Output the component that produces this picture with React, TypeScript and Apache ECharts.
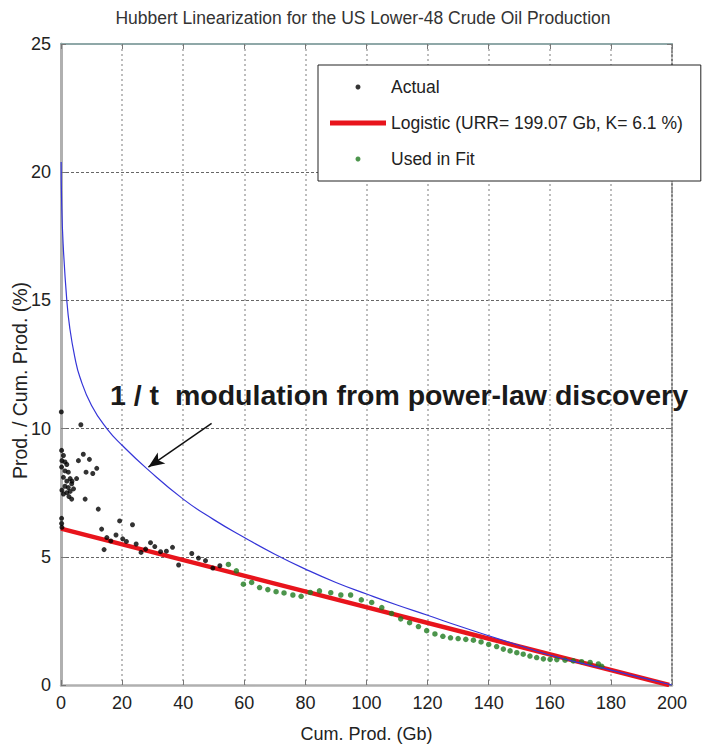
import React, { useEffect, useRef } from "react";
import * as echarts from "echarts";

const titleText = "Hubbert Linearization for the US Lower-48 Crude Oil Production";
const xName = "Cum. Prod. (Gb)";
const yName = "Prod. / Cum. Prod. (%)";
const noteText = "1 / t  modulation from power-law discovery";
const actualName = "Actual";
const logisticName = "Logistic (URR= 199.07 Gb, K= 6.1 %)";
const fitName = "Used in Fit";

// Black "Actual" points: [cumulative production Gb, prod/cum prod %]
const actualPoints: [number, number][] = [
  [0.1, 10.65], [6.5, 10.15],
  [0.2, 9.15], [0.8, 8.95], [0.3, 8.75], [1.3, 8.7], [0.2, 8.5], [1.9, 8.6], [1.3, 8.35],
  [2.4, 8.3], [0.8, 8.1], [1.9, 7.95], [3.0, 8.05], [3.6, 7.95], [5.1, 8.05], [1.3, 7.75],
  [2.4, 7.7], [3.5, 7.85], [3.0, 7.55], [4.1, 7.65], [0.8, 7.45], [1.9, 7.5], [3.5, 7.25],
  [0.3, 7.6], [2.6, 7.35],
  [5.7, 8.75], [7.3, 9.0], [9.3, 8.8], [8.2, 8.3], [10.4, 8.25], [11.7, 8.45], [7.9, 7.25], [12.2, 6.86],
  [0.2, 6.5], [0.2, 6.3], [0.3, 6.15],
  [13.3, 6.08], [19.2, 6.4], [23.4, 6.25], [14.1, 5.28], [15.0, 5.75], [16.3, 5.62], [18.0, 5.85],
  [20.2, 5.7], [21.4, 5.6], [24.6, 5.5], [26.2, 5.17], [27.7, 5.3], [29.3, 5.55], [30.7, 5.4],
  [32.6, 5.2], [34.5, 5.22], [36.5, 5.37], [38.5, 4.68], [42.8, 5.13], [45.0, 4.95], [47.3, 4.85],
  [49.7, 4.56], [52.0, 4.65],
];

// Green "Used in Fit" points
const fitPoints: [number, number][] = [
  [54.8, 4.7], [57.4, 4.45], [59.7, 3.93], [62.4, 4.0], [65.0, 3.8], [67.7, 3.72], [70.4, 3.64],
  [73.0, 3.59], [75.9, 3.51], [78.6, 3.46], [81.6, 3.61], [84.6, 3.67], [88.3, 3.6], [91.6, 3.51],
  [94.8, 3.51], [98.3, 3.32], [101.7, 3.22], [105.0, 3.02], [108.2, 2.79], [111.2, 2.58],
  [114.1, 2.43], [117.0, 2.28], [119.7, 2.12], [122.4, 1.99], [125.0, 1.9], [127.5, 1.84],
  [130.0, 1.81], [132.5, 1.78], [135.0, 1.75], [137.5, 1.68], [140.0, 1.58], [142.6, 1.5],
  [144.8, 1.4], [147.0, 1.33], [149.2, 1.26], [151.3, 1.2], [153.5, 1.13], [155.7, 1.07],
  [157.9, 1.02], [160.1, 1.0], [162.3, 0.99], [165.0, 0.97], [167.7, 0.94], [170.4, 0.91],
  [173.2, 0.88], [175.9, 0.82], [177.0, 0.73],
];

// Logistic straight line end points
const logisticPoints: [number, number][] = [
  [0, 6.1],
  [199.07, 0],
];

// Blue 1/t modulation curve
const modulationPoints: [number, number][] = [
  [0.05, 20.4], [0.2, 18.9], [0.7, 17.2], [1.9, 15.0], [2.9, 13.9], [4.5, 12.8], [6.2, 12.0],
  [10, 10.9], [15, 10.0], [20, 9.35], [28, 8.45], [40, 7.25], [50, 6.45], [60, 5.75],
  [70, 5.1], [80, 4.52], [90, 4.0], [100, 3.55], [110, 3.12], [120, 2.72], [130, 2.31],
  [140, 1.92], [150, 1.54], [160, 1.17], [170, 0.86], [180, 0.58], [190, 0.29], [200, 0.0],
];

// Arrow from annotation to curve
const arrowStart: [number, number] = [49.3, 10.2];
const arrowEnd: [number, number] = [28.6, 8.5];

const FONT = '"Liberation Sans", Arial, Helvetica, sans-serif';

export default function App() {
  const ref = useRef<HTMLDivElement>(null);

  useEffect(() => {
    if (!ref.current) return;
    const chart = echarts.init(ref.current, undefined, { renderer: "svg" });
    const labelStyle = { fontSize: 18, color: "#222", fontFamily: FONT };
    chart.setOption({
      animation: false,
      backgroundColor: "#fff",
      textStyle: { fontFamily: FONT },
      grid: { left: 61, right: 38, top: 44, bottom: 66, containLabel: false, outerBoundsMode: "none" },
      xAxis: [
        {
          type: "value",
          min: 0,
          max: 200,
          interval: 20,
          name: xName,
          nameLocation: "middle",
          nameGap: 40,
          nameMoveOverlap: false,
          nameTextStyle: { fontSize: 18, color: "#222", fontFamily: FONT },
          axisLine: { onZero: false, lineStyle: { color: "#b0b0b0", width: 2.5 } },
          axisTick: { inside: true, length: 5, lineStyle: { color: "#777" } },
          axisLabel: { ...labelStyle, margin: 9 },
          splitLine: { show: true, lineStyle: { color: "#a8a8a8", width: 1.5, type: [2, 3] } },
        },
        {
          type: "value",
          position: "top",
          min: 0,
          max: 200,
          interval: 20,
          axisLine: { show: true, onZero: false, lineStyle: { color: "#8fa8a8", width: 2 } },
          axisTick: { show: true, inside: true, length: 5, lineStyle: { color: "#777" } },
          axisLabel: { show: false },
          splitLine: { show: false },
        },
      ],
      yAxis: [
        {
          type: "value",
          min: 0,
          max: 25,
          interval: 5,
          name: yName,
          nameLocation: "middle",
          nameGap: 31,
          nameMoveOverlap: false,
          nameTextStyle: { fontSize: 19.5, color: "#222", fontFamily: FONT, padding: [0, 32, 0, 0] },
          axisLine: { show: true, onZero: false, lineStyle: { color: "#b0b0b0", width: 3 } },
          axisTick: { show: true, inside: true, length: 5, lineStyle: { color: "#777" } },
          axisLabel: { ...labelStyle, margin: 10 },
          splitLine: { show: true, lineStyle: { color: "#666", width: 1, type: [3, 2] } },
        },
        {
          type: "value",
          position: "right",
          min: 0,
          max: 25,
          interval: 5,
          axisLine: { show: true, onZero: false, lineStyle: { color: "#666", width: 1.5, type: [2, 2] } },
          axisTick: { show: true, inside: true, length: 5, lineStyle: { color: "#777" } },
          axisLabel: { show: false },
          splitLine: { show: false },
        },
      ],
      legend: {
        data: [
          { name: actualName, icon: "circle" },
          { name: logisticName, icon: "rect" },
          { name: fitName, icon: "circle" },
        ],
        orient: "vertical",
        left: 318,
        top: 65,
        itemWidth: 56,
        itemHeight: 5,
        itemGap: 18,
        padding: [13, 18, 13, 12],
        backgroundColor: "#fff",
        borderColor: "#222",
        borderWidth: 1,
        borderRadius: 0,
        textStyle: { fontSize: 17.5, color: "#222", fontFamily: FONT },
      },
      graphic: [
        {
          type: "text",
          x: 363,
          y: 18,
          style: {
            text: titleText,
            font: `17.5px ${FONT}`,
            fill: "#333",
            textAlign: "center",
            textVerticalAlign: "middle",
          },
        },
        {
          type: "text",
          x: 110,
          y: 395,
          z: 10,
          style: {
            text: noteText,
            font: `bold 28.5px ${FONT}`,
            fill: "#1a1a1a",
            textAlign: "left",
            textVerticalAlign: "middle",
          },
        },
      ],
      series: [
        {
          name: logisticName,
          type: "line",
          data: logisticPoints,
          showSymbol: false,
          symbol: "none",
          lineStyle: { color: "#e8141c", width: 4.5 },
          itemStyle: { color: "#e8141c" },
          z: 2,
        },
        {
          name: fitName,
          type: "scatter",
          data: fitPoints,
          symbol: "circle",
          symbolSize: 5.5,
          itemStyle: { color: "#1f7a1f" },
          z: 3,
        },
        {
          name: actualName,
          type: "scatter",
          data: actualPoints,
          symbol: "circle",
          symbolSize: 5,
          itemStyle: { color: "#000" },
          z: 3,
        },
        {
          name: "modulation",
          type: "line",
          data: modulationPoints,
          showSymbol: false,
          symbol: "none",
          smooth: 0.5,
          lineStyle: { color: "#3535d8", width: 1.2 },
          z: 4,
          markLine: {
            silent: true,
            symbol: ["none", "arrow"],
            symbolSize: [10, 16],
            label: { show: false },
            lineStyle: { color: "#111", width: 1.5, type: "solid" },
            data: [[{ coord: arrowStart }, { coord: arrowEnd }]],
          },
        },
      ],
    });
    return () => chart.dispose();
  }, []);

  return (
    <div
      ref={ref}
      style={{ position: "fixed", left: 0, top: 0, width: 710, height: 751, background: "#fff" }}
    />
  );
}
